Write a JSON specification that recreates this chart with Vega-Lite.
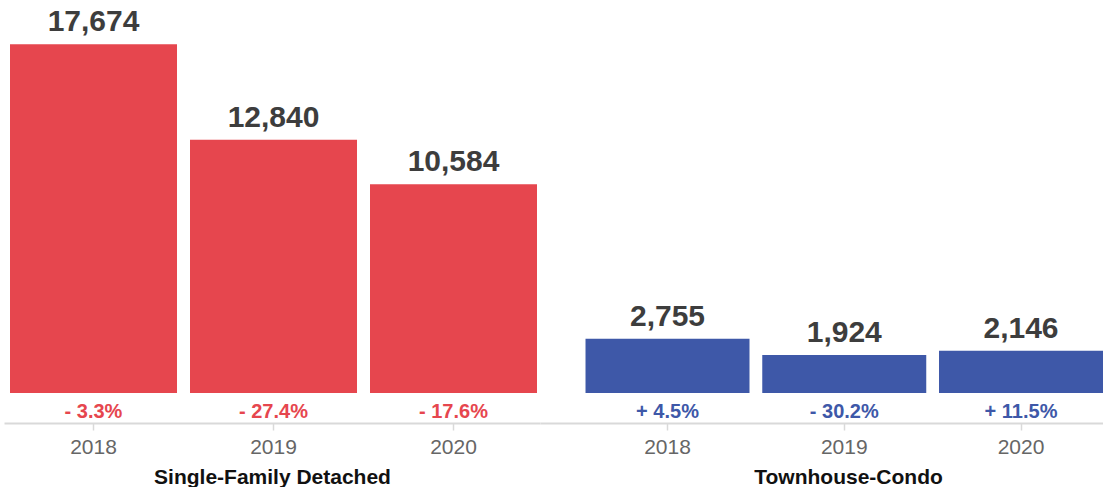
{
  "$schema": "https://vega.github.io/schema/vega-lite/v6.json",
  "padding": {"left": 4, "top": 5, "right": 0, "bottom": 0},
  "spacing": 0,
  "bounds": "flush",
  "background": "white",
  "config": {
    "view": {"stroke": null},
    "font": "Liberation Sans",
    "axisX": {
      "orient": "bottom",
      "offset": 30,
      "domainColor": "#d9d9d9",
      "domainWidth": 2,
      "tickColor": "#d9d9d9",
      "tickWidth": 1.5,
      "tickSize": 7,
      "labelAngle": 0,
      "labelFont": "Liberation Sans",
      "labelFontSize": 21,
      "labelColor": "#666666",
      "labelPadding": 6,
      "titleFont": "Liberation Sans",
      "titleFontSize": 21,
      "titleFontWeight": "bold",
      "titleColor": "#111111",
      "titlePadding": 9
    }
  },
  "data": {
    "values": [
      {"group": "Single-Family Detached", "year": "2018", "value": 17674, "change": "- 3.3%"},
      {"group": "Single-Family Detached", "year": "2019", "value": 12840, "change": "- 27.4%"},
      {"group": "Single-Family Detached", "year": "2020", "value": 10584, "change": "- 17.6%"},
      {"group": "Townhouse-Condo", "year": "2018", "value": 2755, "change": "+ 4.5%"},
      {"group": "Townhouse-Condo", "year": "2019", "value": 1924, "change": "- 30.2%"},
      {"group": "Townhouse-Condo", "year": "2020", "value": 2146, "change": "+ 11.5%"}
    ]
  },
  "hconcat": [
    {
      "width": 536,
      "height": 388,
      "transform": [{"filter": "datum.group === 'Single-Family Detached'"}],
      "encoding": {
        "x": {
          "field": "year",
          "type": "nominal",
          "scale": {"paddingInner": 0.0722, "paddingOuter": 0.025, "align": 0.667},
          "axis": {"title": "Single-Family Detached"}
        },
        "color": {
          "field": "group",
          "type": "nominal",
          "scale": {"domain": ["Single-Family Detached", "Townhouse-Condo"], "range": ["#E6464E", "#3E58A8"]},
          "legend": null
        }
      },
      "layer": [
        {
          "mark": {"type": "bar", "clip": true},
          "encoding": {
            "y": {"field": "value", "type": "quantitative", "axis": null, "scale": {"domain": [0, 19665], "nice": false}}
          }
        },
        {
          "mark": {"type": "text", "baseline": "alphabetic", "dy": -13, "fontSize": 30, "fontWeight": "bold"},
          "encoding": {
            "y": {"field": "value", "type": "quantitative"},
            "text": {"field": "value", "type": "quantitative", "format": ","},
            "color": {"value": "#3d3d3d"}
          }
        },
        {
          "mark": {"type": "text", "baseline": "middle", "dy": 19, "fontSize": 20, "fontWeight": "bold"},
          "encoding": {
            "y": {"datum": 0},
            "text": {"field": "change", "type": "nominal"}
          }
        }
      ]
    },
    {
      "width": 563,
      "height": 388,
      "transform": [{"filter": "datum.group === 'Townhouse-Condo'"}],
      "encoding": {
        "x": {
          "field": "year",
          "type": "nominal",
          "scale": {"paddingInner": 0.0722, "paddingOuter": 0.12875, "align": 1},
          "axis": {"title": "Townhouse-Condo", "titleX": 308}
        },
        "color": {
          "field": "group",
          "type": "nominal",
          "scale": {"domain": ["Single-Family Detached", "Townhouse-Condo"], "range": ["#E6464E", "#3E58A8"]},
          "legend": null
        }
      },
      "layer": [
        {
          "mark": {"type": "bar", "clip": true},
          "encoding": {
            "y": {"field": "value", "type": "quantitative", "axis": null, "scale": {"domain": [0, 19665], "nice": false}}
          }
        },
        {
          "mark": {"type": "text", "baseline": "alphabetic", "dy": -13, "fontSize": 30, "fontWeight": "bold"},
          "encoding": {
            "y": {"field": "value", "type": "quantitative"},
            "text": {"field": "value", "type": "quantitative", "format": ","},
            "color": {"value": "#3d3d3d"}
          }
        },
        {
          "mark": {"type": "text", "baseline": "middle", "dy": 19, "fontSize": 20, "fontWeight": "bold"},
          "encoding": {
            "y": {"datum": 0},
            "text": {"field": "change", "type": "nominal"}
          }
        }
      ]
    }
  ]
}
